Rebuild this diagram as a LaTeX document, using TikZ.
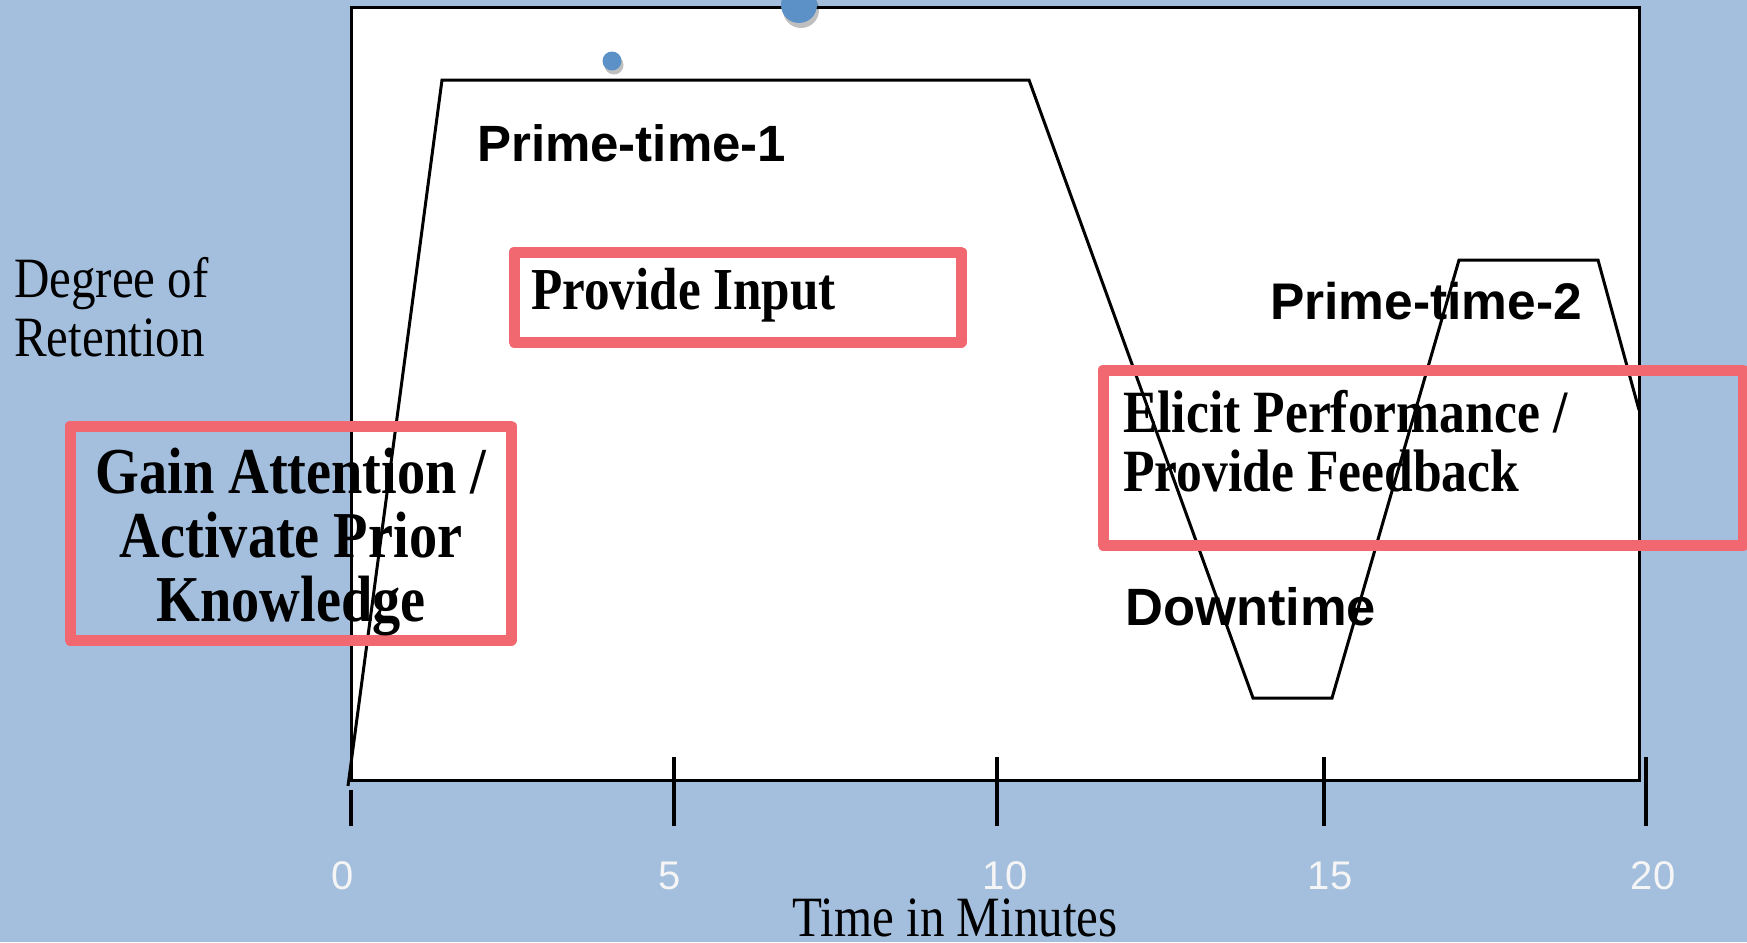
\documentclass[tikz,border=0pt]{standalone}
\usepackage{fontspec}
\setmainfont{Liberation Serif}
\newfontfamily\capfont[FakeStretch=0.86]{Liberation Serif}
\newfontfamily\armfont{Liberation Sans}
\definecolor{bgblue}{RGB}{164,191,222}
\definecolor{boxred}{RGB}{242,104,112}
\definecolor{dotblue}{RGB}{92,145,200}
\definecolor{ticklbl}{RGB}{245,245,245}
\tikzset{
  redbox/.style={draw=boxred,line width=11pt,line join=round},
  curveline/.style={draw=black,line width=3pt,line join=miter},
  tickline/.style={draw=black,line width=3.2pt},
  sanslbl/.style={font=\armfont\bfseries\fontsize{51}{56}\selectfont,inner sep=0pt,anchor=west},
  ticklabel/.style={font=\armfont\fontsize{40}{44}\selectfont,text=ticklbl,inner sep=0pt},
  boxtext/.style={font=\capfont\bfseries\fontsize{59.5}{64}\selectfont,inner sep=0pt},
  axistext/.style={font=\capfont\fontsize{57}{59}\selectfont,inner sep=0pt},
}
\begin{document}
\begin{tikzpicture}[x=1pt,y=-1pt]
\useasboundingbox (0,0) rectangle (1747,942);
\fill[bgblue] (0,0) rectangle (1747,942);
% plot frame
\draw[fill=white,line width=3pt] (351,8) rectangle (1639,780);
% ticks
\coordinate (t0a) at (351,790); \coordinate (t0b) at (351,826);
\coordinate (t5a) at (674,757); \coordinate (t5b) at (674,826);
\coordinate (t10a) at (997,757); \coordinate (t10b) at (997,826);
\coordinate (t15a) at (1324,757); \coordinate (t15b) at (1324,826);
\coordinate (t20a) at (1646,757); \coordinate (t20b) at (1646,826);
\draw[tickline] (t0a) -- (t0b);
\draw[tickline] (t5a) -- (t5b);
\draw[tickline] (t10a) -- (t10b);
\draw[tickline] (t15a) -- (t15b);
\draw[tickline] (t20a) -- (t20b);
% retention curve
\draw[curveline] (348,786) -- (442,80) -- (1029,80) -- (1253,698) -- (1332,698)
  -- (1459,260) -- (1598,260) -- (1639,410);
% tick labels
\node[ticklabel] (l0) at (343,876) {0};
\node[ticklabel] (l5) at (670,876) {5};
\node[ticklabel] (l10) at (1005,876) {10};
\node[ticklabel] (l15) at (1330,876) {15};
\node[ticklabel] (l20) at (1653,876) {20};
\node[axistext] (xlab) at (955,918) {Time in Minutes};
\node[axistext,anchor=west,align=left] (ylab) at (14,307) {Degree of\\Retention};
% phase labels
\node[sanslbl] (pt1) at (477,143) {Prime-time-1};
\node[sanslbl,font=\armfont\bfseries\fontsize{51.5}{56}\selectfont] (pt2) at (1270,301) {Prime-time-2};
\node[sanslbl,font=\armfont\bfseries\fontsize{52.5}{56}\selectfont] (dt) at (1125,607) {Downtime};
% red boxes
\draw[redbox] (514,252) rectangle (961,342);
\draw[redbox] (70,426) rectangle (511,640);
\draw[redbox] (1103,370) rectangle (1743,545);
\node[boxtext,anchor=west] (pin) at (531,295) {Provide Input};
\node[boxtext,align=center,font=\capfont\bfseries\fontsize{65.5}{64}\selectfont] (gain) at (291,542) {Gain Attention /\\Activate Prior\\Knowledge};
\node[boxtext,anchor=west,align=left,font=\capfont\bfseries\fontsize{60}{59}\selectfont] (elic) at (1123,441) {Elicit Performance /\\Provide Feedback};
% dots
\fill[black,opacity=0.25] (614,65) circle (9.5);
\fill[dotblue] (612,61) circle (9.5);
\fill[black,opacity=0.25] (801,10) circle (18);
\fill[dotblue] (799,5) circle (18);
\end{tikzpicture}
\end{document}
